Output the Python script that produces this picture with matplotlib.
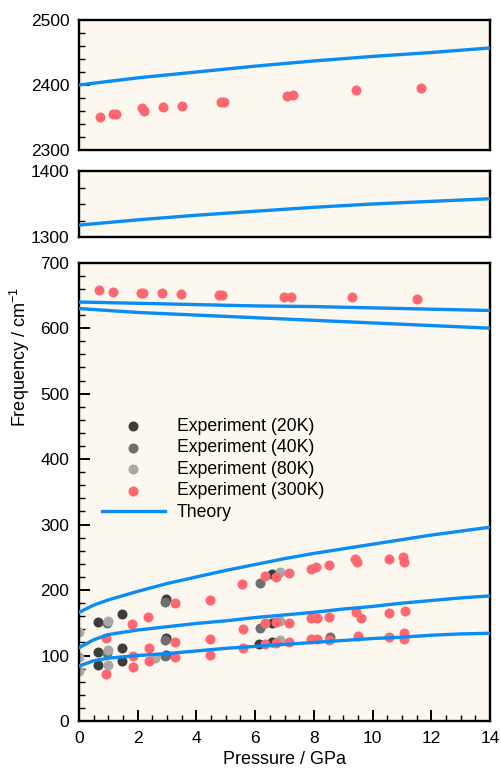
import matplotlib
matplotlib.use("Agg")
import matplotlib.pyplot as plt
from matplotlib.ticker import MultipleLocator

plt.rcParams['font.family'] = ['Liberation Sans', 'DejaVu Sans']
plt.rcParams['mathtext.fontset'] = 'custom'
plt.rcParams['mathtext.rm'] = 'Liberation Sans'
plt.rcParams['mathtext.it'] = 'Liberation Sans'

# colours
BG = '#fdf8ef'
BLUE = '#0a8cf5'
C20 = '#3d3d3d'
C40 = '#6f6f6f'
C80 = '#a8a8a8'
C300 = '#ff6670'

# theory curves (pressure in GPa, frequency in cm-1)
p_th = [0, 0.5, 1, 2, 3, 4, 5, 6, 7, 8, 9, 10, 11, 12, 13, 14]
th_low = [84, 92, 96, 100, 103, 107, 111, 114, 117, 120, 123, 126, 128, 131, 133, 134]
th_mid = [112, 124, 132, 139, 144, 149, 153, 158, 162, 166, 171, 175, 180, 184, 188, 191]
th_up = [166, 177, 185, 198, 210, 220, 230, 239, 248, 256, 263, 270, 277, 284, 290, 296]

p_th_hi = [0, 2, 4, 6, 8, 10, 12, 14]
th_640 = [640, 638, 636, 634, 633, 631, 629, 627]
th_630 = [630, 624, 620, 616, 612, 608, 604, 600]
th_1320 = [1318, 1326, 1333, 1339, 1345, 1350, 1354, 1358]
th_2400 = [2400, 2411, 2420, 2429, 2437, 2444, 2450, 2457]

# experiment 20K
p20 = [0.65, 0.65, 0.65, 1.46, 1.46, 1.46, 2.96, 2.96, 2.96, 6.13, 6.56, 6.56, 6.56]
f20 = [151, 106, 85, 163, 112, 91, 186, 127, 101, 117, 224, 150, 121]
# experiment 40K
p40 = [0.95, 0.95, 2.94, 2.94, 2.94, 6.16, 6.16, 8.55]
f40 = [150, 104, 181, 124, 99, 211, 142, 129]
# experiment 80K
p80 = [0.0, 0.0, 0.0, 0.98, 0.98, 0.98, 2.58, 6.85, 6.85, 6.85]
f80 = [136, 98, 77, 153, 108, 86, 96, 228, 153, 123]
# experiment 300K, low frequency modes
p300 = [1.81, 2.36, 3.26, 4.46, 5.54, 6.34, 6.70, 7.16, 7.89, 8.06, 8.53, 9.40, 9.46, 10.56, 11.05, 11.07,
        0.91, 2.38, 3.26, 4.46, 5.57, 6.34, 6.70, 7.16, 7.90, 8.10, 8.53, 9.43, 9.60, 10.56, 11.10,
        0.91, 1.84, 1.84, 2.38, 3.26, 4.46, 5.57, 6.34, 6.70, 7.16, 7.90, 8.10, 8.53, 9.50, 10.56, 11.07, 11.07]
f300 = [148, 159, 180, 185, 209, 222, 220, 226, 232, 235, 239, 247, 243, 247, 251, 243,
        127, 111, 121, 126, 140, 149, 151, 150, 158, 157, 159, 167, 158, 165, 168,
        72, 99, 83, 92, 97, 101, 112, 117, 119, 120, 125, 125, 124, 130, 129, 134, 126]
# experiment 300K, ~650 mode
p300_650 = [0.67, 1.17, 2.11, 2.19, 2.83, 3.46, 4.77, 4.88, 6.98, 7.21, 9.31, 11.52]
f300_650 = [658, 656, 654, 654, 653, 652, 651, 651, 648, 648, 647, 644]
# experiment 300K, ~2350 mode
p300_2350 = [0.72, 1.17, 1.26, 2.16, 2.21, 2.87, 3.52, 4.85, 4.95, 7.07, 7.30, 9.42, 11.64]
f300_2350 = [2351, 2355, 2355, 2364, 2360, 2366, 2368, 2374, 2374, 2383, 2384, 2392, 2396]

W, H = 501, 772
fig = plt.figure(figsize=(W / 100, H / 100), dpi=100)

left = 79 / W
width = 411 / W
ax_top = fig.add_axes([left, 1 - 150 / H, width, 130 / H])
ax_mid = fig.add_axes([left, 1 - 237 / H, width, 66 / H])
ax_bot = fig.add_axes([left, 1 - 721 / H, width, 458.3 / H])

MS = 52
LW = 2.4

for ax in (ax_top, ax_mid, ax_bot):
    ax.set_facecolor(BG)
    ax.set_xlim(0, 14)
    for s in ax.spines.values():
        s.set_linewidth(1.7)
    ax.tick_params(which='both', direction='in', top=False, right=False, labelsize=12.5, pad=7)
    ax.tick_params(which='major', length=8, width=1.4)
    ax.tick_params(which='minor', length=4.5, width=1.0)
    ax.xaxis.set_major_locator(MultipleLocator(2))
    ax.xaxis.set_minor_locator(MultipleLocator(0.5))

for ax in (ax_top, ax_mid):
    ax.tick_params(which='both', bottom=False, labelbottom=False)

# top panel
ax_top.set_ylim(2300, 2500)
ax_top.yaxis.set_major_locator(MultipleLocator(100))
ax_top.yaxis.set_minor_locator(MultipleLocator(20))
ax_top.scatter(p300_2350, f300_2350, s=MS, color=C300, linewidths=0, zorder=2)
ax_top.plot(p_th_hi, th_2400, color=BLUE, lw=LW, zorder=3)

# middle panel
ax_mid.set_ylim(1300, 1400)
ax_mid.yaxis.set_major_locator(MultipleLocator(100))
ax_mid.yaxis.set_minor_locator(MultipleLocator(25))
ax_mid.plot(p_th_hi, th_1320, color=BLUE, lw=LW, zorder=3)

# bottom panel
ax_bot.set_ylim(0, 700)
ax_bot.yaxis.set_major_locator(MultipleLocator(100))
ax_bot.yaxis.set_minor_locator(MultipleLocator(20))
ax_bot.scatter(p20, f20, s=MS, color=C20, linewidths=0, zorder=2, label='Experiment (20K)')
ax_bot.scatter(p40, f40, s=MS, color=C40, linewidths=0, zorder=2, label='Experiment (40K)')
ax_bot.scatter(p80, f80, s=MS, color=C80, linewidths=0, zorder=2, label='Experiment (80K)')
ax_bot.scatter(p300, f300, s=MS, color=C300, linewidths=0, zorder=2, label='Experiment (300K)')
ax_bot.scatter(p300_650, f300_650, s=MS, color=C300, linewidths=0, zorder=2)
ax_bot.plot(p_th, th_up, color=BLUE, lw=LW, zorder=3, label='Theory')
ax_bot.plot(p_th, th_mid, color=BLUE, lw=LW, zorder=3)
ax_bot.plot(p_th, th_low, color=BLUE, lw=LW, zorder=3)
ax_bot.plot(p_th_hi, th_640, color=BLUE, lw=LW, zorder=3)
ax_bot.plot(p_th_hi, th_630, color=BLUE, lw=LW, zorder=3)

ax_bot.legend(loc='upper left', bbox_to_anchor=(0.056, 0.662), frameon=False,
              fontsize=12.7, borderpad=0, borderaxespad=0, handlelength=3.55,
              handletextpad=0.68, labelspacing=0.26)

ax_bot.set_xlabel('Pressure / GPa', fontsize=13, labelpad=4)
fig.text(20 / W, 1 - 357 / H, r'Frequency / cm$^{\mathregular{-1}}$', rotation=90,
         ha='center', va='center', fontsize=13)

fig.savefig('out.png', dpi=100)
